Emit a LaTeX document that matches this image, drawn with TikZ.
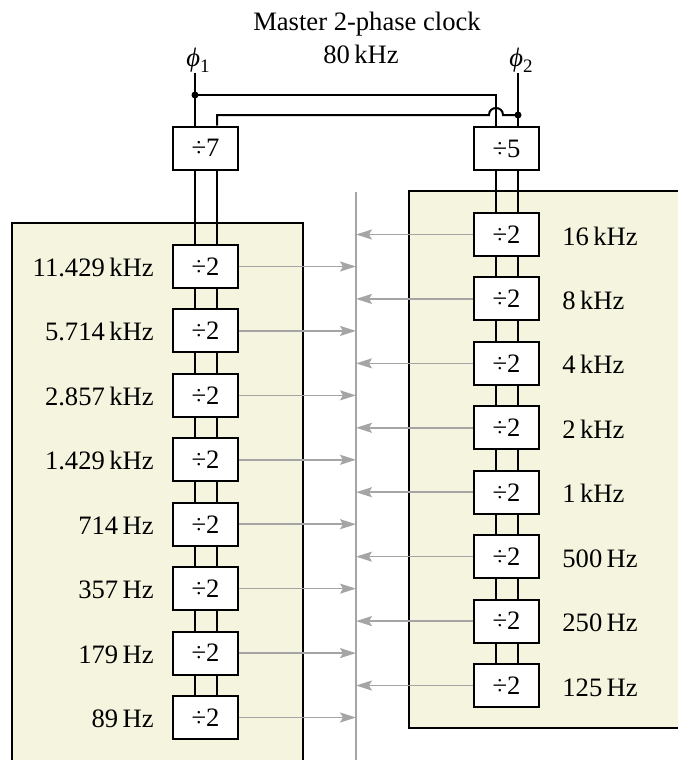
\documentclass[tikz,border=0pt]{standalone}
\usepackage{fontspec}
\setmainfont{Liberation Serif}
\usetikzlibrary{arrows.meta}
\definecolor{panel}{RGB}{245,245,223}
\definecolor{busgray}{RGB}{165,165,165}
\begin{document}
\begin{tikzpicture}[x=0.5pt,y=-0.5pt,
  font=\fontsize{13.3}{16}\selectfont,
  divbox/.style={draw,line width=1pt,fill=white,minimum width=32.5pt,minimum height=21.5pt,inner sep=0pt},
  wire/.style={line width=1pt},
  busline/.style={draw=busgray,line width=0.8pt},
  tap/.style={draw=busgray,line width=0.8pt,-{Stealth[length=8pt,width=5pt,inset=1.5pt]}},
  panelbox/.style={draw,line width=1pt,fill=panel},
  jdot/.style={circle,fill,inner sep=0pt,minimum size=3.5pt},
  freqL/.style={anchor=base east,inner sep=0pt},
  freqR/.style={anchor=base west,inner sep=0pt}
]
\clip (0,0) rectangle (678,760);
% panels
\draw[panelbox] (12,223) rectangle (303,790);
\draw[panelbox] (409,191) rectangle (720,728);
% bus
\coordinate (bt) at (356,192);
\coordinate (bb) at (356,790);
\draw[busline] (bt) -- (bb);
% title
\node[anchor=base,inner sep=0pt] (title) at (367,30) {Master 2-phase clock};
\node[anchor=base,inner sep=0pt] (freq) at (361,63) {80\,kHz};
\node[anchor=base west,inner sep=0pt] (p1) at (186,66) {\textit{ϕ}\raisebox{-0.25em}{\fontsize{9.5}{9.5}\selectfont 1}};
\node[anchor=base west,inner sep=0pt] (p2) at (509,66) {\textit{ϕ}\raisebox{-0.25em}{\fontsize{9.5}{9.5}\selectfont 2}};
% top dividers
\node[divbox] (d7) at (205.5,148) {÷7};
\node[divbox] (d5) at (506.5,148.5) {÷5};
% chains
\foreach \t [count=\i from 0] in {11.429\,kHz,5.714\,kHz,2.857\,kHz,1.429\,kHz,714\,Hz,357\,Hz,179\,Hz,89\,Hz}{
  \node[divbox] (L\i) at (205.5,{266.5+64.43*\i}) {÷2};
  \node[freqL] (lL\i) at (154,{276.5+64.43*\i}) {\t};
  \draw[tap] (L\i.east) -- (L\i.east -| bt);
}
\foreach \t [count=\i from 0] in {16\,kHz,8\,kHz,4\,kHz,2\,kHz,1\,kHz,500\,Hz,250\,Hz,125\,Hz}{
  \node[divbox] (R\i) at (506.5,{234.5+64.43*\i}) {÷2};
  \node[freqR] (lR\i) at (562,{245+64.43*\i}) {\t};
  \draw[tap] (R\i.west) -- (R\i.west -| bt);
}
\foreach \s in {-5.25pt,5.75pt}{
  \draw[wire] ([xshift=\s]d7.south) -- ([xshift=\s]L0.north);
  \draw[wire] ([xshift=\s]d5.south) -- ([xshift=\s]R0.north);
  \foreach \i [evaluate=\i as \j using int(\i+1)] in {0,...,6}{
    \draw[wire] ([xshift=\s]L\i.south) -- ([xshift=\s]L\j.north);
    \draw[wire] ([xshift=\s]R\i.south) -- ([xshift=\s]R\j.north);
  }
}
% clock wiring
\coordinate (t1) at (195,73);
\coordinate (t2) at (518,73);
\node[jdot] (j1) at (195,95) {};
\node[jdot] (j2) at (518,115) {};
\draw[wire] (t1) -- ([xshift=-5.25pt]d7.north);
\draw[wire] (t2) -- ([xshift=5.75pt]d5.north);
\draw[wire] (j1.center) -| ([xshift=-5.25pt]d5.north);
\coordinate (hopR) at (503,115);
\coordinate (hopL) at (489,115);
\draw[wire] (j2.center) -- (hopR) .. controls (503,105.7) and (489,105.7) .. (hopL) -| ([xshift=5.75pt]d7.north);
\end{tikzpicture}
\end{document}
